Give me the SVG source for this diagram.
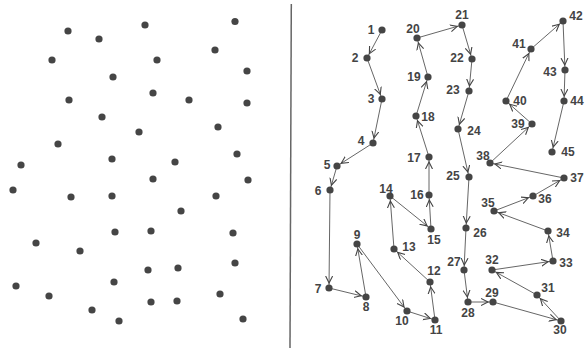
<svg xmlns="http://www.w3.org/2000/svg" width="585" height="348" viewBox="0 0 585 348">
<style>
.d{fill:#454545}
.c line{stroke:#555;stroke-width:0.9;marker-end:url(#ah)}
.t{font-family:"Liberation Sans",Arial,sans-serif;font-size:12px;font-weight:bold;fill:#444;text-anchor:middle}
</style>
<defs>
<marker id="ah" markerUnits="userSpaceOnUse" markerWidth="16" markerHeight="10" refX="12" refY="4" orient="auto">
<path d="M0,0.5 L7,4 L0,7.5" fill="none" stroke="#444" stroke-width="1.1"/>
</marker>
</defs>
<rect width="585" height="348" fill="#fff"/>
<line x1="291.3" y1="4" x2="290" y2="348" stroke="#666" stroke-width="1.5"/>
<g id="left-dots" class="d">
<circle cx="68" cy="31" r="3.6"/><circle cx="99" cy="39" r="3.6"/><circle cx="145" cy="25" r="3.6"/><circle cx="235" cy="21.5" r="3.6"/>
<circle cx="52" cy="60" r="3.6"/><circle cx="157" cy="60" r="3.6"/><circle cx="215" cy="50" r="3.6"/><circle cx="113" cy="77" r="3.6"/>
<circle cx="247" cy="71" r="3.6"/><circle cx="69" cy="100" r="3.6"/><circle cx="153" cy="93" r="3.6"/><circle cx="189" cy="100" r="3.6"/>
<circle cx="247" cy="103" r="3.6"/><circle cx="102" cy="117" r="3.6"/><circle cx="139" cy="132" r="3.6"/><circle cx="218" cy="127" r="3.6"/>
<circle cx="58" cy="144" r="3.6"/><circle cx="112" cy="159" r="3.6"/><circle cx="175" cy="162" r="3.6"/><circle cx="237" cy="154" r="3.6"/>
<circle cx="21" cy="165" r="3.6"/><circle cx="153" cy="179" r="3.6"/><circle cx="248" cy="180" r="3.6"/><circle cx="13" cy="190" r="3.6"/>
<circle cx="71" cy="197" r="3.6"/><circle cx="112" cy="196" r="3.6"/><circle cx="216" cy="196" r="3.6"/><circle cx="181" cy="211" r="3.6"/>
<circle cx="115" cy="232" r="3.6"/><circle cx="151" cy="231" r="3.6"/><circle cx="233" cy="233" r="3.6"/><circle cx="36" cy="243" r="3.6"/>
<circle cx="80" cy="251" r="3.6"/><circle cx="148" cy="270" r="3.6"/><circle cx="178" cy="268" r="3.6"/><circle cx="235" cy="263" r="3.6"/>
<circle cx="114" cy="282" r="3.6"/><circle cx="16" cy="286" r="3.6"/><circle cx="49" cy="296" r="3.6"/><circle cx="220" cy="294" r="3.6"/>
<circle cx="92" cy="310" r="3.6"/><circle cx="151" cy="302" r="3.6"/><circle cx="177" cy="301" r="3.6"/><circle cx="243" cy="319" r="3.6"/>
<circle cx="119" cy="321" r="3.6"/>
</g>
<g id="connectors" class="c">
<line x1="382" y1="30" x2="367" y2="58"/>
<line x1="367" y1="58" x2="382" y2="99"/>
<line x1="382" y1="99" x2="373" y2="143"/>
<line x1="373" y1="143" x2="337" y2="166"/>
<line x1="337" y1="166" x2="330" y2="190"/>
<line x1="330" y1="190" x2="329" y2="288"/>
<line x1="329" y1="288" x2="366" y2="297"/>
<line x1="366" y1="297" x2="357" y2="244"/>
<line x1="357" y1="244" x2="407" y2="311"/>
<line x1="407" y1="311" x2="435" y2="320"/>
<line x1="435" y1="320" x2="430" y2="282"/>
<line x1="430" y1="282" x2="394" y2="249"/>
<line x1="394" y1="249" x2="390" y2="196"/>
<line x1="390" y1="196" x2="431" y2="229"/>
<line x1="431" y1="229" x2="429" y2="195"/>
<line x1="429" y1="195" x2="429" y2="157"/>
<line x1="429" y1="157" x2="416" y2="116"/>
<line x1="416" y1="116" x2="428" y2="77"/>
<line x1="428" y1="77" x2="417" y2="38"/>
<line x1="417" y1="38" x2="462" y2="25"/>
<line x1="462" y1="25" x2="472" y2="59"/>
<line x1="472" y1="59" x2="469" y2="91"/>
<line x1="469" y1="91" x2="458" y2="129"/>
<line x1="458" y1="129" x2="469" y2="177"/>
<line x1="469" y1="177" x2="466" y2="228"/>
<line x1="466" y1="228" x2="464" y2="270"/>
<line x1="464" y1="270" x2="468" y2="302"/>
<line x1="468" y1="302" x2="493" y2="302"/>
<line x1="493" y1="302" x2="561" y2="321"/>
<line x1="561" y1="321" x2="537" y2="295"/>
<line x1="537" y1="295" x2="492" y2="270"/>
<line x1="492" y1="270" x2="553" y2="261"/>
<line x1="553" y1="261" x2="548" y2="231"/>
<line x1="548" y1="231" x2="494" y2="211"/>
<line x1="494" y1="211" x2="533" y2="196"/>
<line x1="533" y1="196" x2="564" y2="178"/>
<line x1="564" y1="178" x2="490" y2="163"/>
<line x1="490" y1="163" x2="532" y2="124"/>
<line x1="532" y1="124" x2="506" y2="101"/>
<line x1="506" y1="101" x2="531" y2="49"/>
<line x1="531" y1="49" x2="563" y2="21"/>
<line x1="563" y1="21" x2="565" y2="70"/>
<line x1="565" y1="70" x2="564" y2="101"/>
<line x1="564" y1="101" x2="552" y2="152"/>
</g>
<g id="n1"><circle class="d" cx="382" cy="30" r="3.6"/><text class="t" x="371" y="34">1</text></g>
<g id="n2"><circle class="d" cx="367" cy="58" r="3.6"/><text class="t" x="355" y="62">2</text></g>
<g id="n3"><circle class="d" cx="382" cy="99" r="3.6"/><text class="t" x="371" y="103">3</text></g>
<g id="n4"><circle class="d" cx="373" cy="143" r="3.6"/><text class="t" x="361" y="145">4</text></g>
<g id="n5"><circle class="d" cx="337" cy="166" r="3.6"/><text class="t" x="327" y="169">5</text></g>
<g id="n6"><circle class="d" cx="330" cy="190" r="3.6"/><text class="t" x="318" y="195">6</text></g>
<g id="n7"><circle class="d" cx="329" cy="288" r="3.6"/><text class="t" x="318" y="293">7</text></g>
<g id="n8"><circle class="d" cx="366" cy="297" r="3.6"/><text class="t" x="366" y="311">8</text></g>
<g id="n9"><circle class="d" cx="357" cy="244" r="3.6"/><text class="t" x="357" y="239">9</text></g>
<g id="n10"><circle class="d" cx="407" cy="311" r="3.6"/><text class="t" x="402" y="325">10</text></g>
<g id="n11"><circle class="d" cx="435" cy="320" r="3.6"/><text class="t" x="436" y="334">11</text></g>
<g id="n12"><circle class="d" cx="430" cy="282" r="3.6"/><text class="t" x="434" y="275">12</text></g>
<g id="n13"><circle class="d" cx="394" cy="249" r="3.6"/><text class="t" x="409" y="251">13</text></g>
<g id="n14"><circle class="d" cx="390" cy="196" r="3.6"/><text class="t" x="386" y="193">14</text></g>
<g id="n15"><circle class="d" cx="431" cy="229" r="3.6"/><text class="t" x="434" y="244">15</text></g>
<g id="n16"><circle class="d" cx="429" cy="195" r="3.6"/><text class="t" x="417" y="199">16</text></g>
<g id="n17"><circle class="d" cx="429" cy="157" r="3.6"/><text class="t" x="414" y="162">17</text></g>
<g id="n18"><circle class="d" cx="416" cy="116" r="3.6"/><text class="t" x="428" y="121">18</text></g>
<g id="n19"><circle class="d" cx="428" cy="77" r="3.6"/><text class="t" x="414" y="81">19</text></g>
<g id="n20"><circle class="d" cx="417" cy="38" r="3.6"/><text class="t" x="413" y="33">20</text></g>
<g id="n21"><circle class="d" cx="462" cy="25" r="3.6"/><text class="t" x="462" y="19">21</text></g>
<g id="n22"><circle class="d" cx="472" cy="59" r="3.6"/><text class="t" x="457" y="62">22</text></g>
<g id="n23"><circle class="d" cx="469" cy="91" r="3.6"/><text class="t" x="453" y="94">23</text></g>
<g id="n24"><circle class="d" cx="458" cy="129" r="3.6"/><text class="t" x="474" y="135">24</text></g>
<g id="n25"><circle class="d" cx="469" cy="177" r="3.6"/><text class="t" x="453" y="180">25</text></g>
<g id="n26"><circle class="d" cx="466" cy="228" r="3.6"/><text class="t" x="480" y="237">26</text></g>
<g id="n27"><circle class="d" cx="464" cy="270" r="3.6"/><text class="t" x="454" y="266">27</text></g>
<g id="n28"><circle class="d" cx="468" cy="302" r="3.6"/><text class="t" x="468" y="317">28</text></g>
<g id="n29"><circle class="d" cx="493" cy="302" r="3.6"/><text class="t" x="492" y="297">29</text></g>
<g id="n30"><circle class="d" cx="561" cy="321" r="3.6"/><text class="t" x="560" y="334">30</text></g>
<g id="n31"><circle class="d" cx="537" cy="295" r="3.6"/><text class="t" x="548" y="292">31</text></g>
<g id="n32"><circle class="d" cx="492" cy="270" r="3.6"/><text class="t" x="492" y="264">32</text></g>
<g id="n33"><circle class="d" cx="553" cy="261" r="3.6"/><text class="t" x="566" y="267">33</text></g>
<g id="n34"><circle class="d" cx="548" cy="231" r="3.6"/><text class="t" x="563" y="237">34</text></g>
<g id="n35"><circle class="d" cx="494" cy="211" r="3.6"/><text class="t" x="488" y="207">35</text></g>
<g id="n36"><circle class="d" cx="533" cy="196" r="3.6"/><text class="t" x="545" y="203">36</text></g>
<g id="n37"><circle class="d" cx="564" cy="178" r="3.6"/><text class="t" x="577" y="182">37</text></g>
<g id="n38"><circle class="d" cx="490" cy="163" r="3.6"/><text class="t" x="483" y="160">38</text></g>
<g id="n39"><circle class="d" cx="532" cy="124" r="3.6"/><text class="t" x="518" y="128">39</text></g>
<g id="n40"><circle class="d" cx="506" cy="101" r="3.6"/><text class="t" x="520" y="105">40</text></g>
<g id="n41"><circle class="d" cx="531" cy="49" r="3.6"/><text class="t" x="519" y="48">41</text></g>
<g id="n42"><circle class="d" cx="563" cy="21" r="3.6"/><text class="t" x="576" y="20">42</text></g>
<g id="n43"><circle class="d" cx="565" cy="70" r="3.6"/><text class="t" x="550" y="76">43</text></g>
<g id="n44"><circle class="d" cx="564" cy="101" r="3.6"/><text class="t" x="577" y="105">44</text></g>
<g id="n45"><circle class="d" cx="552" cy="152" r="3.6"/><text class="t" x="568" y="156">45</text></g>
</svg>
